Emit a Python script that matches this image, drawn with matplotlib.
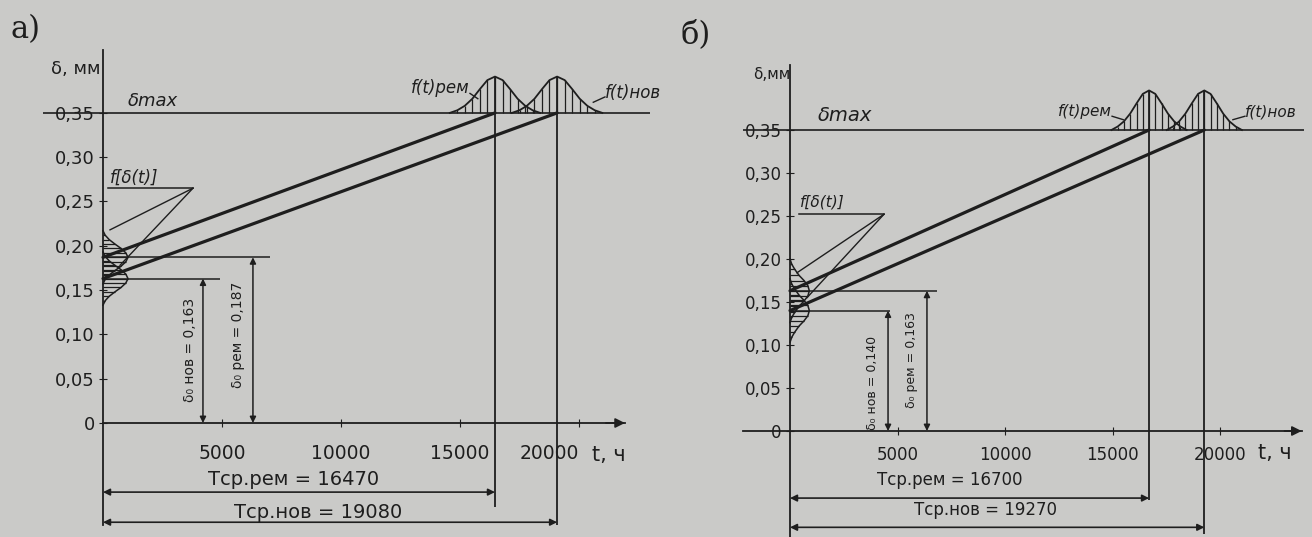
import matplotlib
matplotlib.use('Agg')
import matplotlib.pyplot as plt

plt.rcParams['font.family'] = ['DejaVu Sans']

BG = '#cacac8'
INK = '#1e1e1e'

delta_max = 0.35
y_ticks = [0, 0.05, 0.10, 0.15, 0.20, 0.25, 0.30, 0.35]
y_tick_labels = ['0', '0,05', '0,10', '0,15', '0,20', '0,25', '0,30', '0,35']
x_ticks = [5000, 10000, 15000, 20000]
x_tick_labels = ['5000', '10000', '15000', '20000']

# а) средний ресурс (рем, нов), ч и начальный зазор, мм
t_avg_a = [16470, 19080]
delta0_a = [0.187, 0.163]
# б)
t_avg_b = [16700, 19270]
delta0_b = [0.163, 0.140]

# профиль f(t) над δmax: смещение от Tср, ч / высота, мм
bell_off_a = [-1900, -1580, -1270, -950, -630, -320, 0, 320, 630, 950, 1270, 1580, 1900]
bell_h_a = [0, 0.003, 0.008, 0.016, 0.027, 0.037, 0.041, 0.037, 0.027, 0.016, 0.008, 0.003, 0]
bell_off_b = [-1750, -1460, -1170, -880, -580, -290, 0, 290, 580, 880, 1170, 1460, 1750]
bell_h_b = [0, 0.004, 0.010, 0.019, 0.031, 0.042, 0.046, 0.042, 0.031, 0.019, 0.010, 0.004, 0]

# профиль f[δ(t)] у оси δ: смещение от δ0, мм / ширина, ч
dist_off_a = [-0.03, -0.025, -0.02, -0.015, -0.01, -0.005, 0, 0.005, 0.01, 0.015, 0.02, 0.025, 0.03]
dist_w_a = [0, 90, 260, 500, 760, 960, 1050, 960, 760, 500, 260, 90, 0]
dist_off_b = [-0.037, -0.031, -0.025, -0.018, -0.012, -0.006, 0, 0.006, 0.012, 0.018, 0.025, 0.031, 0.037]
dist_w_b = [0, 80, 220, 420, 650, 830, 900, 830, 650, 420, 220, 80, 0]

W, H = 1312, 537
fig = plt.figure(figsize=(W / 100, H / 100), dpi=100, facecolor=BG)


def add_panel(ox, oy, sx, sy, xlim, ylim):
    # ox, oy - положение начала координат в пикселях, sx, sy - масштаб
    left = ox + xlim[0] * sx
    right = ox + xlim[1] * sx
    top = oy - ylim[1] * sy
    bottom = oy - ylim[0] * sy
    ax = fig.add_axes([left / W, 1 - bottom / H, (right - left) / W, (bottom - top) / H])
    ax.set_xlim(xlim)
    ax.set_ylim(ylim)
    ax.set_facecolor('none')
    return ax


def setup_axes(ax, xb, yb, fs, xfs, xpad):
    for s in ['top', 'right']:
        ax.spines[s].set_visible(False)
    for s in ['left', 'bottom']:
        ax.spines[s].set_position(('data', 0))
        ax.spines[s].set_color(INK)
        ax.spines[s].set_linewidth(1.3)
    ax.spines['bottom'].set_bounds(*xb)
    ax.spines['left'].set_bounds(*yb)
    ax.annotate('', xy=(xb[1], 0), xytext=(xb[1] - 800, 0),
                arrowprops=dict(arrowstyle='-|>', color=INK, lw=1.3, mutation_scale=14,
                                shrinkA=0, shrinkB=0))
    ax.set_yticks(y_ticks, y_tick_labels)
    ax.set_xticks(x_ticks, x_tick_labels)
    ax.tick_params(axis='y', direction='inout', length=6, color=INK, labelsize=fs, pad=3,
                   labelcolor=INK)
    ax.tick_params(axis='x', direction='inout', length=6, color=INK, labelsize=xfs,
                   pad=xpad, labelcolor=INK)


def draw_common(ax, t_avg, delta0, bell_off, bell_h, dist_off, dist_w, v_low, dim_y):
    ax.axhline(delta_max, xmin=0, xmax=1, color=INK, lw=1.2)
    for k in range(2):
        T = t_avg[k]
        # колокол f(t) со штриховкой
        xs = [T + o for o in bell_off]
        ys = [delta_max + h for h in bell_h]
        ax.plot(xs, ys, color=INK, lw=1.3)
        ax.vlines(xs[1:-1], delta_max, ys[1:-1], color=INK, lw=0.9)
        # f[δ(t)] у оси
        ds = [delta0[k] + o for o in dist_off]
        ax.plot(dist_w, ds, color=INK, lw=1.1)
        ax.hlines(ds[1:-1], 0, dist_w[1:-1], color=INK, lw=0.9)
        # линия износа
        ax.plot([0, T], [delta0[k], delta_max], color=INK, lw=2.3, solid_capstyle='round')
        # вертикаль Tср
        ax.vlines(T, v_low[k], delta_max + max(bell_h), color=INK, lw=1.3)
        # размерная линия Tср
        ax.annotate('', xy=(T, dim_y[k]), xytext=(0, dim_y[k]),
                    arrowprops=dict(arrowstyle='<|-|>', color=INK, lw=1.2, mutation_scale=10,
                                    shrinkA=0, shrinkB=0))


def dim_vertical(ax, t, d0):
    ax.annotate('', xy=(t, 0), xytext=(t, d0),
                arrowprops=dict(arrowstyle='<|-|>', color=INK, lw=1.1, mutation_scale=9,
                                shrinkA=0, shrinkB=0))


# ---------- а) ----------
ax = add_panel(103, 423, 0.0238, 886, (-2500, 23000), (-0.125, 0.43))
setup_axes(ax, (0, 21930), (-0.115, 0.421), 13, 13.5, 12)
ax.get_xticklabels()[-1].set_ha('right')
draw_common(ax, t_avg_a, delta0_a, bell_off_a, bell_h_a, dist_off_a, dist_w_a,
            (-0.095, -0.115), (-0.078, -0.112))

ax.hlines(delta0_a[0], 0, 7000, color=INK, lw=1.1)
ax.hlines(delta0_a[1], 0, 4900, color=INK, lw=1.1)
dim_vertical(ax, 4200, delta0_a[1])
dim_vertical(ax, 6300, delta0_a[0])
ax.text(3650, 0.082, f'δ₀ нов = {delta0_a[1]:.3f}'.replace('.', ','), rotation=90,
        ha='center', va='center', fontsize=10, color=INK)
ax.text(5670, 0.10, f'δ₀ рем = {delta0_a[0]:.3f}'.replace('.', ','), rotation=90,
        ha='center', va='center', fontsize=10, color=INK)

ax.text(294, 0.277, 'f[δ(t)]', fontsize=12, color=INK, va='center', style='italic')
ax.plot([200, 3780], [0.265, 0.265], color=INK, lw=1.1)
ax.plot([3780, 294], [0.265, 0.218], color=INK, lw=1.0)
ax.plot([3780, 714], [0.265, 0.178], color=INK, lw=1.0)

ax.text(1050, 0.353, 'δmax', fontsize=13, color=INK, va='bottom', style='italic')
ax.text(15420, 0.378, 'f(t)рем', fontsize=12, color=INK, ha='right', va='center', style='italic')
ax.plot([15420, 15750], [0.372, 0.366], color=INK, lw=1.0)
ax.text(21090, 0.372, 'f(t)нов', fontsize=12, color=INK, ha='left', va='center', style='italic')
ax.plot([21090, 20600], [0.368, 0.362], color=INK, lw=1.0)

ax.text(-125, 0.40, 'δ, мм', fontsize=13, color=INK, ha='right', va='center')
ax.text(21250, -0.036, 't, ч', fontsize=15, color=INK, ha='center', va='center')
ax.text(8025, -0.064, f'Tср.рем = {t_avg_a[0]}', fontsize=14, color=INK, ha='center', va='center')
ax.text(9030, -0.101, f'Tср.нов = {t_avg_a[1]}', fontsize=14, color=INK, ha='center', va='center')

# ---------- б) ----------
ax = add_panel(790, 431, 0.0215, 860, (-2200, 23900), (-0.12, 0.43))
setup_axes(ax, (-2190, 23800), (-0.123, 0.426), 12, 12, 8)
draw_common(ax, t_avg_b, delta0_b, bell_off_b, bell_h_b, dist_off_b, dist_w_b,
            (-0.08, -0.125), (-0.078, -0.112))

ax.hlines(delta0_b[0], 0, 6840, color=INK, lw=1.1)
ax.hlines(delta0_b[1], 0, 4650, color=INK, lw=1.1)
dim_vertical(ax, 4560, delta0_b[1])
dim_vertical(ax, 6370, delta0_b[0])
ax.text(3860, 0.056, f'δ₀ нов = {delta0_b[1]:.3f}'.replace('.', ','), rotation=90,
        ha='center', va='center', fontsize=9, color=INK)
ax.text(5670, 0.083, f'δ₀ рем = {delta0_b[0]:.3f}'.replace('.', ','), rotation=90,
        ha='center', va='center', fontsize=9, color=INK)

ax.text(465, 0.266, 'f[δ(t)]', fontsize=11, color=INK, va='center', style='italic')
ax.plot([400, 4370], [0.252, 0.252], color=INK, lw=1.1)
ax.plot([4370, 325], [0.252, 0.184], color=INK, lw=1.0)
ax.plot([4370, 790], [0.252, 0.155], color=INK, lw=1.0)

ax.text(1300, 0.356, 'δmax', fontsize=14, color=INK, va='bottom', style='italic')
ax.text(14980, 0.371, 'f(t)рем', fontsize=11, color=INK, ha='right', va='center', style='italic')
ax.plot([14980, 15500], [0.366, 0.362], color=INK, lw=1.0)
ax.text(21160, 0.371, 'f(t)нов', fontsize=11, color=INK, ha='left', va='center', style='italic')
ax.plot([21160, 20600], [0.366, 0.362], color=INK, lw=1.0)

ax.text(0, 0.414, 'δ,мм', fontsize=11, color=INK, ha='right', va='center')
ax.text(22550, -0.025, 't, ч', fontsize=15, color=INK, ha='center', va='center')
ax.text(7440, -0.057, f'Tср.рем = {t_avg_b[0]}', fontsize=12, color=INK, ha='center', va='center')
ax.text(9070, -0.092, f'Tср.нов = {t_avg_b[1]}', fontsize=12, color=INK, ha='center', va='center')

fig.text(10 / W, 1 - 30 / H, 'а)', fontsize=22, color=INK, family='DejaVu Serif', va='center')
fig.text(680 / W, 1 - 35 / H, 'б)', fontsize=22, color=INK, family='DejaVu Serif', va='center')

fig.savefig('out.png', dpi=100, facecolor=BG)
